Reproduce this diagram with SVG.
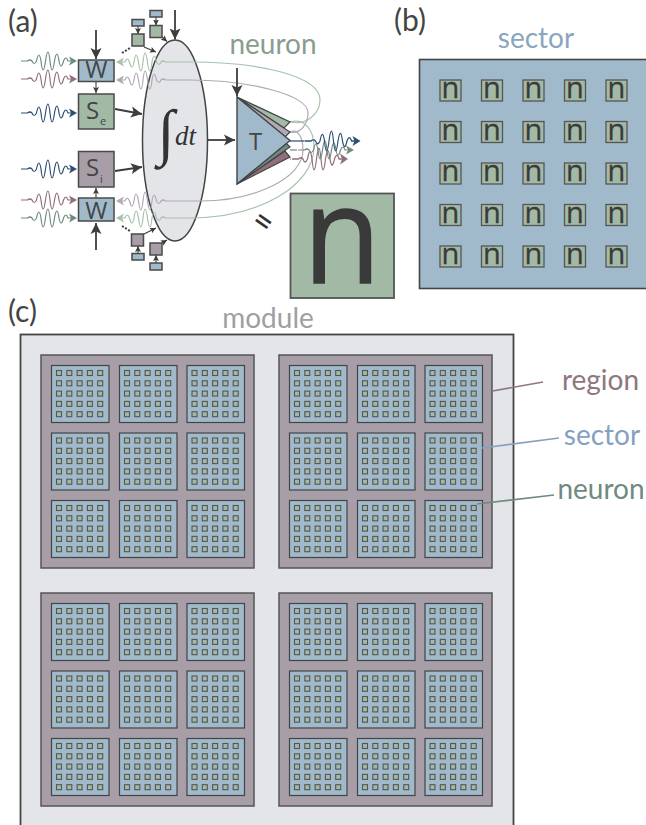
<svg xmlns="http://www.w3.org/2000/svg" width="646" height="825" viewBox="0 0 646 825">
<style>
text{font-family:"Lato","Open Sans","Liberation Sans",sans-serif}
.bx{stroke:#4a4a4a;stroke-width:1.5}
.blue{fill:#a0bacb}.green{fill:#a2b9a6}.mauve{fill:#a89ea8}
.lbl{font-size:28px;text-anchor:middle}
.pl{font-size:30px;fill:#444}
.in{font-size:24px;fill:#444;text-anchor:middle;font-family:"Open Sans","Liberation Sans",sans-serif}
.sub{font-size:11px;fill:#444;font-family:"Open Sans","Liberation Sans",sans-serif}
.ar{stroke:#3d3d3d;stroke-width:1.8;fill:none}
.lin{fill:none;stroke-width:1.2}
.wb{stroke:#2c4f75;fill:#2c4f75}.wg{stroke:#6f8b80;fill:#6f8b80}.wr{stroke:#8f6f79;fill:#8f6f79}
.lg{stroke:#a8c2ac;fill:#a8c2ac}.lm{stroke:#b3a8b6;fill:#b3a8b6}
.nt{font-family:"Open Sans","Liberation Sans",sans-serif;font-size:29px;fill:#3a3a3a;stroke:#3a3a3a;stroke-width:.3;text-anchor:middle}
</style>
<defs>
<path id="w" fill="none" stroke-width="1.2" d="M-29 0H-22.500Q-20 -2 -18 0Q-16 5 -13.500 0Q-11 -12 -9 0Q-7 18 -4.500 0Q-2 -18 0 0Q2 18 4.500 0Q7 -14 9 0Q11 10 13.500 0Q16 -6 18 0L22 0"/>
<path id="h" stroke="none" d="M19 -4.500L27 0L19 4.500L21 0Z"/>
<g id="wave"><use href="#w"/><use href="#h"/></g>
<marker id="big" markerWidth="12" markerHeight="12" refX="11" refY="6" orient="auto" markerUnits="userSpaceOnUse"><path d="M0 0.500L11 6L0 11.500L2.500 6Z" fill="#3d3d3d"/></marker>
<marker id="sm" markerWidth="7" markerHeight="7" refX="6" refY="3.500" orient="auto" markerUnits="userSpaceOnUse"><path d="M0 0.500L6 3.500L0 6.500L1.200 3.500Z" fill="#3d3d3d"/></marker>
<g id="r5"><rect x="-2.500" y="-2.500" width="5" height="5"/><rect x="7.800" y="-2.500" width="5" height="5"/><rect x="18.100" y="-2.500" width="5" height="5"/><rect x="28.400" y="-2.500" width="5" height="5"/><rect x="38.700" y="-2.500" width="5" height="5"/></g>
<g id="sec">
<rect x="0" y="0" width="57.500" height="57" fill="#a0bacb" stroke="#444" stroke-width="1.2"/>
<g fill="#a2b9a6" stroke="#555" stroke-width="1.100">
<use href="#r5" x="7.500" y="7.500"/><use href="#r5" x="7.500" y="17.800"/><use href="#r5" x="7.500" y="28.100"/><use href="#r5" x="7.500" y="38.400"/><use href="#r5" x="7.500" y="48.700"/>
</g></g>
<g id="reg">
<rect x="0" y="0" width="213" height="213" fill="#a89ea8" stroke="#555" stroke-width="1.500"/>
<use href="#sec" x="10.500" y="10.500"/><use href="#sec" x="78.500" y="10.500"/><use href="#sec" x="146" y="10.500"/>
<use href="#sec" x="10.500" y="78"/><use href="#sec" x="78.500" y="78"/><use href="#sec" x="146" y="78"/>
<use href="#sec" x="10.500" y="145.500"/><use href="#sec" x="78.500" y="145.500"/><use href="#sec" x="146" y="145.500"/>
</g>
<g id="nb"><rect x="0" y="0" width="21" height="21" fill="#a2b9a6" stroke="#555" stroke-width="1.300"/><text class="nt" x="10.500" y="18.300">n</text></g>
<g id="nrow"><use href="#nb" x="0"/><use href="#nb" x="41.500"/><use href="#nb" x="83"/><use href="#nb" x="124.500"/><use href="#nb" x="166"/></g>
</defs>

<text class="pl" x="8" y="32">(a)</text>
<text class="pl" x="394" y="31">(b)</text>
<text class="pl" x="8" y="322">(c)</text>
<text class="lbl" x="273" y="54" fill="#8a9c90">neuron</text>
<text class="lbl" x="536" y="48" fill="#8ba5bf">sector</text>
<text class="lbl" x="268" y="328" fill="#a0a0a0">module</text>
<text class="lbl" x="600.500" y="390" fill="#8f7680">region</text>
<text class="lbl" x="602" y="445" fill="#85a1bf">sector</text>
<text class="lbl" x="601" y="499" fill="#6f8a80">neuron</text>

<g id="module">
<rect x="20.500" y="334.500" width="493" height="500" fill="#e3e5e8" stroke="#444" stroke-width="1.800"/>
<use href="#reg" x="41" y="355"/><use href="#reg" x="279" y="355"/>
<use href="#reg" x="41" y="593"/><use href="#reg" x="279" y="593"/>
</g>

<g id="sector-b">
<rect x="419.500" y="59.500" width="229" height="229" fill="#a0bacb" stroke="#444" stroke-width="1.600"/>
<use href="#nrow" x="440" y="80"/><use href="#nrow" x="440" y="121.500"/><use href="#nrow" x="440" y="163"/><use href="#nrow" x="440" y="204.500"/><use href="#nrow" x="440" y="246"/>
</g>

<g id="soma"><ellipse cx="175" cy="140.500" rx="32.500" ry="100.500" fill="#e3e5e8" stroke="#444" stroke-width="1.500"/>
<text x="166" y="153" font-size="62" fill="#333" style="font-family:'Liberation Serif',serif" font-style="italic" text-anchor="middle">∫</text>
<text x="185.500" y="145" font-size="27" fill="#333" style="font-family:'Liberation Serif',serif" font-style="italic" text-anchor="middle">dt</text></g>

<g id="connectors">
<g class="lin">
<path class="lg" style="fill:none" d="M290 122C308 126 320 112 320 100C320 76 260 62 190 62H172"/>
<path class="lm" style="fill:none" d="M290 132C300 134 308 125 308 113C308 95 250 80 190 80H172"/>
<path class="lm" style="fill:none" d="M290 132C298 128 303 138 303 150C303 178 255 201 200 201H172"/>
<path class="lg" style="fill:none" d="M290 122C305 118 314 130 314 147C314 185 260 218 190 218H172"/>
<path class="wb" style="fill:none" d="M290 141H304"/>
<path class="wg" style="fill:none" d="M290 150H297"/>
<path class="wr" style="fill:none" d="M290 159H291"/>
</g>
<use href="#wave" class="wg" transform="translate(50 61)"/>
<use href="#wave" class="wr" transform="translate(50 79)"/>
<use href="#wave" class="wb" transform="translate(50 113)"/>
<use href="#wave" class="wb" transform="translate(50 169)"/>
<use href="#wave" class="wr" transform="translate(50 200)"/>
<use href="#wave" class="wg" transform="translate(50 218)"/>
<use href="#wave" class="lg" transform="translate(143 62) scale(-1 1)"/>
<use href="#wave" class="lm" transform="translate(143 80) scale(-1 1)"/>
<use href="#wave" class="lm" transform="translate(143 201) scale(-1 1)"/>
<use href="#wave" class="lg" transform="translate(143 218) scale(-1 1)"/>
<use href="#wave" class="wr" transform="translate(321 159) scale(1 1.2)"/>
<use href="#wave" class="wg" transform="translate(327 150)"/>
<use href="#wave" class="wb" transform="translate(333.500 141) scale(1 1.1)"/>
<g class="ar">
<path d="M96 30V59" marker-end="url(#big)"/>
<path d="M96 250V223" marker-end="url(#big)"/>
<path d="M175 10V39.500" marker-end="url(#big)"/>
<path d="M237 68V96" marker-end="url(#big)"/>
<path d="M207 140H235" marker-end="url(#big)"/>
<path d="M115 109L142 114" marker-end="url(#big)"/>
<path d="M115 171L142 167" marker-end="url(#big)"/>
</g>
<g class="ar" style="stroke-width:1.100">
<path d="M96 82V93" marker-end="url(#sm)"/>
<path d="M96 198V188" marker-end="url(#sm)"/>
<path d="M138 26V34" marker-end="url(#sm)"/>
<path d="M156 17V25.500" marker-end="url(#sm)"/>
<path d="M144 47L156 52" marker-end="url(#sm)"/>
<path d="M162 37L167 41.500" marker-end="url(#sm)"/>
<path d="M138 253V246" marker-end="url(#sm)"/>
<path d="M156 263V255" marker-end="url(#sm)"/>
<path d="M144 234L156 228" marker-end="url(#sm)"/>
<path d="M162 243L167 240" marker-end="url(#sm)"/>
<path d="M122 53L130 48" stroke-width="2" stroke-dasharray="2 1.600"/>
<path d="M122 226L130 231" stroke-width="2" stroke-dasharray="2 1.600"/>
</g>
<path d="M492.500 391L543 382" fill="none" stroke="#8f7680" stroke-width="1.600"/>
<path d="M482 448L559 438" fill="none" stroke="#85a1bf" stroke-width="1.600"/>
<path d="M477 504L554 495" fill="none" stroke="#6f8a80" stroke-width="1.600"/>
</g>

<g id="w-top"><rect class="bx blue" x="78.500" y="60" width="35.500" height="21.500"/><text class="in" x="96.300" y="78">W</text></g>
<g id="s-e"><rect class="bx green" x="78.500" y="94" width="35.500" height="35"/><text class="in" x="92.500" y="118.500">S</text><text class="sub" x="100" y="125">e</text></g>
<g id="s-i"><rect class="bx mauve" x="78.500" y="151.500" width="35.500" height="35.500"/><text class="in" x="92.500" y="176">S</text><text class="sub" x="100" y="183">i</text></g>
<g id="w-bot"><rect class="bx blue" x="78.500" y="198" width="35.500" height="23"/><text class="in" x="96.300" y="218.500">W</text></g>

<g id="syn-1"><rect class="bx blue" x="132" y="19.500" width="12" height="6.500"/><rect class="bx green" x="132" y="34" width="12" height="12"/></g>
<g id="syn-2"><rect class="bx blue" x="150" y="10.500" width="12" height="6.500"/><rect class="bx green" x="150" y="25.500" width="12" height="12"/></g>
<g id="syn-3"><rect class="bx mauve" x="131.500" y="234" width="12" height="12"/><rect class="bx blue" x="132" y="253.500" width="12" height="6.500"/></g>
<g id="syn-4"><rect class="bx mauve" x="150" y="243" width="12" height="12"/><rect class="bx blue" x="150" y="263" width="12" height="7"/></g>

<g id="threshold">
<polygon points="237,97 290,122 284,128" fill="#a2b9a6" stroke="#444" stroke-width="1.200"/>
<polygon points="237,97 290,132 285,137" fill="#b3a8b6" stroke="#444" stroke-width="1.200"/>
<polygon points="237,184 290,157 285,151" fill="#8f6f79" stroke="#444" stroke-width="1.200"/>
<polygon points="237,184 290,147 285,142" fill="#6f8b80" stroke="#444" stroke-width="1.200"/>
<polygon points="237,97 290,140.500 237,184" fill="#a0bacb" stroke="#444" stroke-width="1.400"/>
<text class="in" x="255.500" y="150">T</text>
</g>

<g id="neuron-n"><rect x="290.500" y="193.500" width="103.500" height="104.500" fill="#a2b9a6" stroke="#555" stroke-width="1.800"/>
<text x="0" y="0" font-size="136" fill="#3a3a3a" stroke="#3a3a3a" stroke-width="1.500" text-anchor="middle" transform="translate(342 283) scale(.93 1)" style="font-family:'Open Sans',sans-serif">n</text></g>
<text x="263" y="232" font-size="30" font-weight="600" fill="#333" text-anchor="middle" transform="rotate(35 263 222)" style="font-family:'Open Sans',sans-serif">=</text>
</svg>
